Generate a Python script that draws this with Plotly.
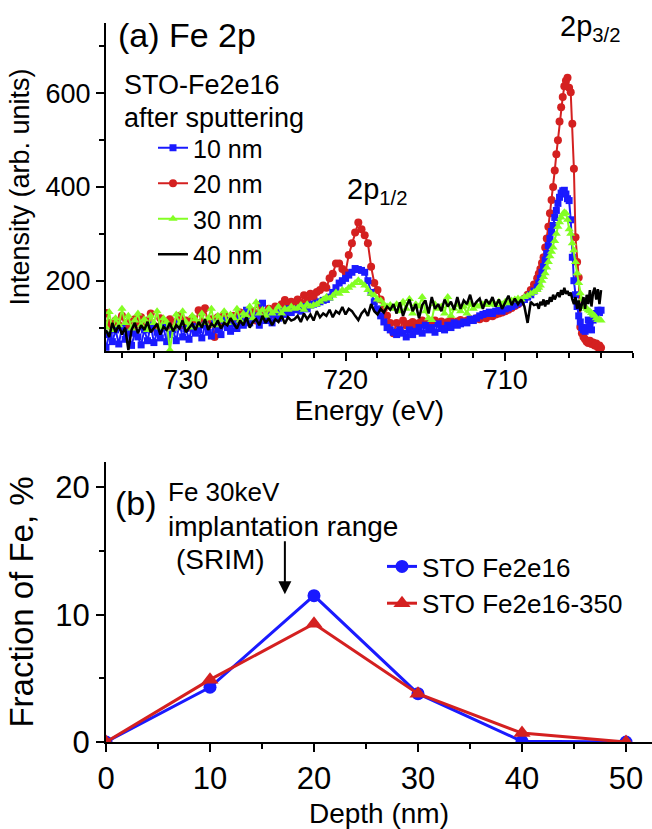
import numpy as np
import plotly.graph_objects as go

# ---------------- DATA: panel (a) Fe 2p XPS spectra ----------------
# energy grid (eV): 0.2 eV steps from 735.0 to 708.2, then 0.1 eV steps 708.0 -> 704.0
energy = np.round(np.concatenate([np.arange(735.0, 708.1, -0.2),
                                  np.arange(708.0, 703.95, -0.1)]), 1)

int_10nm = [
    58, 85, 70, 95, 65, 100, 75, 90, 62, 88,
    80, 63, 95, 72, 105, 68, 90, 78, 100, 70,
    85, 95, 72, 108, 80, 98, 75, 102, 88, 95,
    78, 105, 90, 82, 110, 95, 85, 115, 100, 92,
    108, 98, 120, 105, 137, 110, 118, 125, 105, 152,
    115, 125, 110, 130, 120, 135, 128, 140, 132, 138,
    140, 135, 145, 140, 148, 150, 152, 155, 158, 160,
    165, 175, 185, 195, 200, 205, 212, 218, 226, 224,
    222, 218, 200, 175, 155, 140, 125, 112, 100, 95,
    90, 85, 95, 88, 80, 95, 85, 92, 100, 88,
    105, 95, 100, 90, 108, 98, 95, 105, 100, 110,
    105, 108, 112, 110, 118, 115, 120, 125, 128, 130,
    133, 130, 135, 138, 135, 140, 142, 145, 148, 152,
    155, 160, 165, 170, 178,
    186, 195, 205, 218, 230, 244, 258, 275, 290, 305,
    318, 335, 350, 365, 378, 387, 392, 393, 385, 375,
    371, 330, 250, 200, 170, 145, 125, 112, 100, 95,
    92, 100, 116, 105, 95, 116, 125, 130, 137, 132,
    137,
]

int_20nm = [
    131, 110, 98, 115, 105, 125, 100, 112, 95, 118,
    108, 122, 100, 115, 130, 105, 95, 120, 110, 102,
    118, 98, 112, 125, 105, 115, 100, 120, 108, 137,
    112, 141, 105, 118, 80, 122, 110, 128, 115, 108,
    125, 118, 132, 110, 128, 120, 135, 115, 148, 125,
    130, 140, 128, 145, 135, 150, 159, 145, 155, 150,
    160, 152, 169, 158, 172, 165, 176, 180, 190, 185,
    205, 215, 237, 237, 225, 218, 255, 280, 303, 324,
    310, 297, 280, 230, 195, 180, 160, 140, 125, 110,
    88, 110, 95, 115, 105, 108, 112, 100, 110, 115,
    108, 112, 105, 115, 110, 113, 108, 112, 115, 110,
    113, 116, 112, 115, 118, 116, 120, 118, 122, 120,
    125, 124, 128, 130, 132, 135, 138, 142, 146, 150,
    155, 162, 170, 180, 192,
    205, 215, 225, 238, 250, 271, 290, 315, 344, 372,
    400, 435, 470, 500, 540, 570, 592, 615, 627, 633,
    612, 602, 535, 439, 293, 240, 207, 101, 88, 80,
    75, 70, 67, 72, 65, 68, 62, 66, 58, 62,
    57,
]

int_30nm = [
    100, 133, 95, 120, 105, 140, 110, 125, 98, 115,
    130, 105, 118, 95, 125, 110, 135, 100, 120, 112,
    52, 98, 128, 108, 135, 112, 100, 125, 118, 105,
    130, 110, 120, 140, 105, 125, 115, 135, 110, 128,
    120, 140, 115, 130, 125, 145, 120, 154, 130, 138,
    125, 140, 130, 135, 145, 130, 140, 138, 145, 140,
    142, 148, 138, 150, 145, 148, 150, 155, 160, 165,
    162, 168, 175, 172, 180, 178, 185, 190, 195, 201,
    195, 190, 180, 172, 169, 160, 158, 150, 145, 148,
    140, 150, 135, 155, 140, 161, 130, 150, 145, 165,
    135, 120, 116, 150, 140, 145, 130, 165, 125, 140,
    150, 135, 145, 130, 150, 140, 148, 145, 150, 148,
    150, 152, 148, 155, 150, 155, 152, 158, 160, 162,
    160, 165, 168, 172, 176,
    180, 185, 190, 200, 208, 216, 228, 240, 252, 262,
    271, 285, 300, 315, 325, 335, 342, 346, 344, 330,
    310, 300, 280, 265, 240, 216, 195, 173, 160, 150,
    144, 140, 137, 135, 131, 128, 125, 120, 116, 118,
    115,
]

int_40nm = [
    95, 80, 110, 90, 105, 85, 100, 52, 95, 110,
    88, 105, 95, 112, 90, 100, 108, 85, 102, 95,
    110, 92, 105, 98, 115, 90, 100, 108, 95, 112,
    100, 118, 95, 108, 102, 115, 98, 110, 105, 120,
    108, 98, 115, 105, 122, 100, 112, 118, 105, 125,
    110, 120, 105, 118, 112, 125, 108, 122, 115, 118,
    125, 112, 130, 118, 128, 115, 135, 122, 130, 125,
    138, 122, 135, 130, 144, 128, 140, 135, 125, 116,
    130, 138, 125, 150, 135, 128, 140, 132, 145, 138,
    150, 130, 154, 125, 145, 160, 135, 150, 120, 148,
    158, 130, 165, 140, 150, 135, 160, 145, 155, 138,
    165, 140, 158, 150, 170, 145, 155, 162, 140, 160,
    150, 165, 145, 160, 140, 155, 168, 148, 162, 150,
    160, 145, 110, 155, 148,
    150, 140, 155, 148, 160, 145, 158, 150, 165, 155,
    170, 160, 168, 175, 165, 180, 170, 185, 172, 178,
    168, 175, 160, 150, 165, 140, 158, 135, 150, 165,
    140, 170, 150, 180, 145, 175, 185, 160, 182, 150,
    180,
]

# ---------------- DATA: panel (b) Fe fraction vs depth ----------------
depth_nm = [0, 10, 20, 30, 40, 50]
frac_fe2e16 = [0, 4.3, 11.5, 3.8, 0.05, 0]
frac_fe2e16_350 = [0, 4.9, 9.3, 3.8, 0.7, 0]

for s in (int_10nm, int_20nm, int_30nm, int_40nm):
    assert len(s) == len(energy), (len(s), len(energy))

# ---------------- FIGURE ----------------
W, H = 652, 829
def px(x):
    return x / W
def py(y):
    return 1 - y / H

FONT = "Liberation Sans, Arial, sans-serif"
BLUE = "#1a1aff"
RED = "#d42020"
GREEN = "#84ff24"

fig = go.Figure()

# draw order: red, blue, green, black ; legend order 10,20,30,40
fig.add_trace(go.Scatter(x=energy, y=int_20nm, name="20 nm", mode="lines+markers",
                         line=dict(color=RED, width=2),
                         marker=dict(symbol="circle", size=8, color=RED),
                         legend="legend", legendrank=2, xaxis="x", yaxis="y"))
fig.add_trace(go.Scatter(x=energy, y=int_10nm, name="10 nm", mode="lines+markers",
                         line=dict(color=BLUE, width=2),
                         marker=dict(symbol="square", size=7, color=BLUE),
                         legend="legend", legendrank=1, xaxis="x", yaxis="y"))
fig.add_trace(go.Scatter(x=energy, y=int_30nm, name="30 nm", mode="lines+markers",
                         line=dict(color=GREEN, width=2),
                         marker=dict(symbol="triangle-up", size=8, color=GREEN),
                         legend="legend", legendrank=3, xaxis="x", yaxis="y"))
fig.add_trace(go.Scatter(x=energy, y=int_40nm, name="40 nm", mode="lines",
                         line=dict(color="black", width=2.5),
                         legend="legend", legendrank=4, xaxis="x", yaxis="y"))

fig.add_trace(go.Scatter(x=depth_nm, y=frac_fe2e16, name="STO Fe2e16", mode="lines+markers",
                         line=dict(color=BLUE, width=3),
                         marker=dict(symbol="circle", size=13, color=BLUE),
                         legend="legend2", xaxis="x2", yaxis="y2"))
fig.add_trace(go.Scatter(x=depth_nm, y=frac_fe2e16_350, name="STO Fe2e16-350", mode="lines+markers",
                         line=dict(color=RED, width=3),
                         marker=dict(symbol="triangle-up", size=15, color=RED),
                         legend="legend2", xaxis="x2", yaxis="y2"))

axis_common = dict(showline=True, linecolor="black", linewidth=2, showgrid=False,
                   zeroline=False, ticks="outside", ticklen=8, tickwidth=2,
                   tickcolor="black", mirror=False, automargin=False)

fig.update_layout(
    template=None,
    width=W, height=H,
    margin=dict(l=0, r=0, t=0, b=0, autoexpand=False),
    paper_bgcolor="white", plot_bgcolor="white",
    font=dict(family=FONT, color="black"),
    xaxis=dict(domain=[px(106), px(633)], range=[735, 702], anchor="y",
               dtick=10, tick0=0, ticklabelstandoff=-4,
               minor=dict(dtick=2, ticklen=5, tickwidth=1.5, ticks="outside", tickcolor="black"),
               tickfont=dict(size=27),
               title=dict(text="Energy (eV)", font=dict(size=28), standoff=1),
               **axis_common),
    yaxis=dict(domain=[py(351), py(23)], range=[50, 750], anchor="x",
               dtick=200, tick0=0,
               minor=dict(dtick=100, ticklen=5, tickwidth=1.5, ticks="outside", tickcolor="black"),
               tickfont=dict(size=27),
               title=dict(text="Intensity (arb. units)", font=dict(size=27), standoff=8),
               **axis_common),
    xaxis2=dict(domain=[px(106), 1.0], range=[0, 52.5], anchor="y2",
                dtick=10, tick0=0,
                minor=dict(dtick=5, ticklen=5, tickwidth=1.5, ticks="outside", tickcolor="black"),
                tickfont=dict(size=31),
                title=dict(text="Depth (nm)", font=dict(size=28), standoff=16),
                **axis_common),
    yaxis2=dict(domain=[py(742), py(462)], range=[0, 22], anchor="x2",
                dtick=10, tick0=0,
                minor=dict(dtick=5, ticklen=5, tickwidth=1.5, ticks="outside", tickcolor="black"),
                tickfont=dict(size=31),
                title=dict(text="Fraction of Fe, %", font=dict(size=33), standoff=12),
                **axis_common),
    legend=dict(x=px(153), y=py(125), xanchor="left", yanchor="top",
                font=dict(size=25), bgcolor="rgba(0,0,0,0)", tracegroupgap=0,
                itemwidth=30),
    legend2=dict(x=px(382), y=py(543), xanchor="left", yanchor="top",
                 font=dict(size=26), bgcolor="rgba(0,0,0,0)", tracegroupgap=0,
                 itemwidth=30),
    showlegend=True,
)

ann = [
    dict(text="(a) Fe 2p", x=px(116), y=py(35), size=34),
    dict(text="STO-Fe2e16", x=px(122), y=py(85), size=27),
    dict(text="after sputtering", x=px(122), y=py(118), size=27),
    dict(text="2p<sub>1/2</sub>", x=px(345), y=py(191), size=29),
    dict(text="2p<sub>3/2</sub>", x=px(558), y=py(28), size=29),
    dict(text="(b)", x=px(113), y=py(503), size=34),
    dict(text="Fe 30keV", x=px(166), y=py(492), size=26),
    dict(text="implantation range", x=px(166), y=py(526), size=28),
    dict(text="(SRIM)", x=px(174), y=py(559), size=28),
]
for a in ann:
    fig.add_annotation(text=a["text"], x=a["x"], y=a["y"], xref="paper", yref="paper",
                       xanchor="left", yanchor="middle", showarrow=False,
                       font=dict(size=a["size"], family=FONT, color="black"))

# arrow marking the SRIM implantation range
fig.add_annotation(x=17.2, y=11.6, ax=17.2, ay=15.9, xref="x2", yref="y2",
                   axref="x2", ayref="y2", showarrow=True, arrowhead=2,
                   arrowsize=1.3, arrowwidth=2, arrowcolor="black", text="")

fig.write_html("out.html",
               config={"displayModeBar": False},
               post_script="document.body.style.margin='0';document.body.style.overflow='hidden';")
